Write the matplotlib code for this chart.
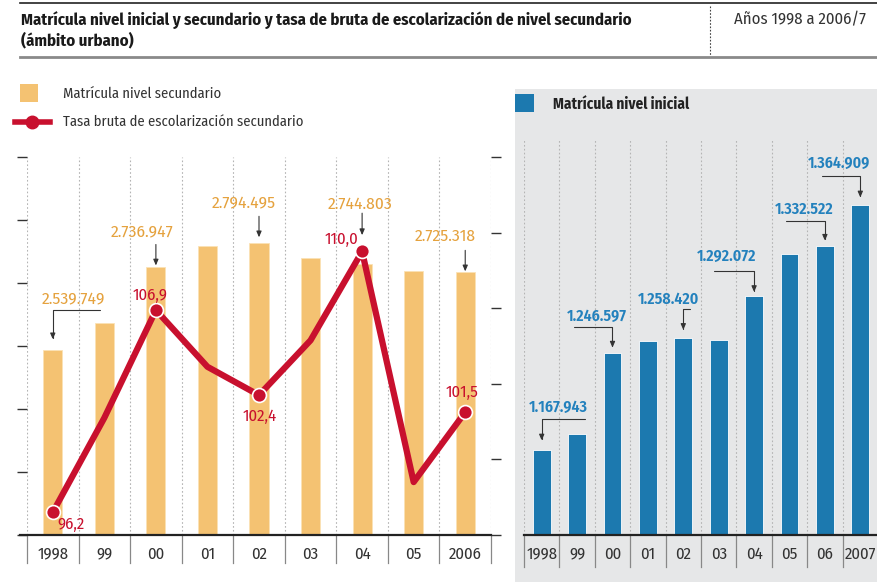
import matplotlib
matplotlib.use('Agg')
import matplotlib.pyplot as plt
from matplotlib.patches import Rectangle
from matplotlib.lines import Line2D
import matplotlib.transforms as mtransforms
import numpy as np

# ---------------- data ----------------
sec_years = ['1998', '99', '00', '01', '02', '03', '04', '05', '2006']
sec_enrol = [2539749, 2605000, 2736947, 2788000, 2794495, 2759500, 2744803, 2728500, 2725318]
sec_rate = [96.2, 101.2, 106.9, 103.9, 102.4, 105.3, 110.0, 97.8, 101.5]
sec_labeled = [0, 2, 4, 6, 8]

ini_years = ['1998', '99', '00', '01', '02', '03', '04', '05', '06', '2007']
ini_enrol = [1167943, 1181000, 1246597, 1256000, 1258420, 1256800, 1292072, 1325600, 1332522, 1364909]
ini_labeled = [0, 2, 4, 6, 8, 9]

title = 'Matrícula nivel inicial y secundario y tasa de bruta de escolarización de nivel secundario\n(ámbito urbano)'
subtitle = 'Años 1998 a 2006/7'
leg_sec = 'Matrícula nivel secundario'
leg_rate = 'Tasa bruta de escolarización secundario'
leg_ini = 'Matrícula nivel inicial'

# ---------------- fonts ----------------
plt.rcParams['font.family'] = ['Fira Sans Condensed', 'DejaVu Sans']

W, H, DPI = 878, 582, 100
fig = plt.figure(figsize=(W / DPI, H / DPI), dpi=DPI)
fig.patch.set_facecolor('white')

def fx(x):
    return x / W

def fy(y):
    return 1 - y / H

ORANGE = '#f4c272'
ORANGE_T = '#e5a23e'
RED = '#c8102e'
BLUE = '#1c79af'
BLUE_T = '#2381bd'
GRID = '#b4b4b4'
DARK = '#333333'

# ---------------- header ----------------
fig.add_artist(Line2D([fx(20), 1], [fy(3), fy(3)], transform=fig.transFigure, color='#222', lw=1.2))
fig.add_artist(Line2D([fx(20), 1], [fy(57), fy(57)], transform=fig.transFigure, color='#8a8a8a', lw=2))
fig.add_artist(Line2D([fx(710), fx(710)], [fy(6), fy(56)], transform=fig.transFigure, color='#444',
                      lw=0.8, ls=(0, (1.5, 1.5))))
fig.text(fx(21), fy(30), title, ha='left', va='center', fontsize=12, fontweight='bold', color='#1a1a1a',
         linespacing=1.2)
fig.text(fx(734), fy(20), subtitle, ha='left', va='center', fontsize=12, color='#333')

# ---------------- gray panel ----------------
fig.patches.append(Rectangle((fx(515), 0), fx(878) - fx(515), fy(89), transform=fig.transFigure,
                             facecolor='#e6e7e8', edgecolor='none', zorder=-5))

# ---------------- legends (manual) ----------------
fig.patches.append(Rectangle((fx(20), fy(102)), fx(18), 18 / H, transform=fig.transFigure,
                             facecolor=ORANGE, edgecolor='none'))
fig.text(fx(63), fy(94), leg_sec, ha='left', va='center', fontsize=10.5, color=DARK)
fig.add_artist(Line2D([fx(15), fx(50)], [fy(122), fy(122)], transform=fig.transFigure, color=RED, lw=4))
fig.add_artist(Line2D([fx(32)], [fy(122)], transform=fig.transFigure, marker='o', ms=9, mfc=RED, mec=RED))
fig.text(fx(63), fy(122), leg_rate, ha='left', va='center', fontsize=10.5, color=DARK)

fig.patches.append(Rectangle((fx(515), fy(112)), fx(19), 18 / H, transform=fig.transFigure,
                             facecolor=BLUE, edgecolor='none', zorder=1))
fig.text(fx(553), fy(104), leg_ini, ha='left', va='center', fontsize=11, fontweight='bold', color='#222')

# ---------------- helper ----------------
def arrow(ax, xi, v, sdx, sdy, gap, elbow=True):
    ax.annotate('', xy=(xi, v), xytext=(sdx, sdy), textcoords='offset pixels',
                arrowprops=dict(arrowstyle='-|>,head_length=0.35,head_width=0.15',
                                connectionstyle='angle,angleA=0,angleB=90,rad=0' if elbow else 'arc3',
                                shrinkA=0, shrinkB=gap * 72 / DPI, lw=0.8, color=DARK),
                annotation_clip=False, zorder=6)

def label(ax, xi, v, txt, dx, dy, color, size=11.5, weight='normal'):
    ax.annotate(txt, xy=(xi, v), xytext=(dx, dy), textcoords='offset pixels', ha='center', va='center',
                color=color, fontsize=size, fontweight=weight, annotation_clip=False, zorder=7)

def fmt_int(v):
    return f'{v:,}'.replace(',', '.')

def fmt_rate(v):
    return f'{v:.1f}'.replace('.', ',')

# ---------------- left chart ----------------
ax = fig.add_axes([fx(27), fy(535), fx(491) - fx(27), (535 - 157) / H])
ax.set_facecolor('none')
xs = np.arange(len(sec_years))
ax.set_xlim(-0.5, len(sec_years) - 0.5)
ax.set_ylim(2.1e6, 3.0e6)
ax.bar(xs, sec_enrol, width=0.37, color=ORANGE, edgecolor='#fbe2b5', lw=0.6, zorder=2)
for b in np.arange(-0.5, len(sec_years)):
    ax.axvline(b, color=GRID, lw=0.8, ls=(0, (1.5, 2)), zorder=1)
for s in ax.spines.values():
    s.set_visible(False)
ax.set_yticks(np.arange(2.1e6, 3.0e6 + 1, 1.5e5))
ax.tick_params(axis='y', direction='out', length=7, width=1, color=DARK, labelleft=False)
ax.set_xticks(xs, sec_years)
ax.tick_params(axis='x', length=0, pad=8, labelsize=12, labelcolor=DARK)
ax.plot([-7 / 464, 1], [0, 0], transform=ax.transAxes, color='#222', lw=1.6, clip_on=False, zorder=5)
bt = mtransforms.blended_transform_factory(ax.transData, ax.transAxes)
for b in np.arange(-0.5, len(sec_years)):
    ax.plot([b, b], [0, -28 / 378], transform=bt, color='#888', lw=0.9, clip_on=False)

sec_lbl = {0: (21, 51, 47, 40, 11), 2: (-14, 35, 0, 23, 2), 4: (-15, 40, 0, 27, 6),
           6: (-2, 60, 0, 51, 29), 8: (-20, 36, 0, 22, 1)}
for i in sec_labeled:
    tdx, tdy, sdx, sdy, gap = sec_lbl[i]
    label(ax, xs[i], sec_enrol[i], fmt_int(sec_enrol[i]), tdx, tdy, ORANGE_T, size=12.5)
    arrow(ax, xs[i], sec_enrol[i], sdx, sdy, gap, elbow=(sdx != 0))

ax2 = ax.twinx()
ax2.set_facecolor('none')
ax2.set_ylim(95, 115)
for s in ax2.spines.values():
    s.set_visible(False)
ax2.set_yticks(np.arange(95, 115.1, 4))
ax2.tick_params(axis='y', direction='out', length=7, width=1, color=DARK, labelright=False)
ax2.plot(xs, sec_rate, color=RED, lw=4.5, zorder=3, solid_capstyle='butt')
ax2.plot(xs[sec_labeled], np.array(sec_rate)[sec_labeled], 'o', ms=10, mfc=RED, mec='white', mew=1.2, zorder=4)
rate_lbl = {0: (18, -12), 2: (-6, 15), 4: (1, -21), 6: (-21, 12), 8: (-3, 20)}
for i in sec_labeled:
    dx, dy = rate_lbl[i]
    label(ax2, xs[i], sec_rate[i], fmt_rate(sec_rate[i]), dx, dy, RED, size=12)

# ---------------- right chart ----------------
axr = fig.add_axes([fx(524), fy(535), fx(878) - fx(524), (535 - 140) / H])
axr.set_facecolor('none')
xr = np.arange(len(ini_years))
axr.set_xlim(-0.5, len(ini_years) - 0.5)
axr.set_ylim(1.1e6, 1.4175e6)
axr.bar(xr, ini_enrol, width=0.5, color=BLUE, edgecolor='white', lw=0.6, zorder=2)
for b in np.arange(-0.5, len(ini_years)):
    axr.axvline(b, color=GRID, lw=0.8, ls=(0, (1.5, 2)), zorder=1)
for s in axr.spines.values():
    s.set_visible(False)
axr.set_yticks([])
axr.set_xticks(xr, ini_years)
axr.tick_params(axis='x', length=0, pad=8, labelsize=12, labelcolor=DARK)
axr.plot([0, 1], [0, 0], transform=axr.transAxes, color='#222', lw=1.6, clip_on=False, zorder=5)
btr = mtransforms.blended_transform_factory(axr.transData, axr.transAxes)
for b in np.arange(-0.5, len(ini_years)):
    axr.plot([b, b], [0, -32 / 395], transform=btr, color='#888', lw=0.9, clip_on=False)

ini_lbl = {0: (17, 43, 43, 31, 10), 2: (-16, 36, -38, 26, 5), 4: (-15, 39, 7, 29, 8),
           6: (-28, 40, -40, 25, 4), 8: (-21, 36, -39, 25, 5), 9: (-21, 42, -38, 29, 8)}
for i in ini_labeled:
    tdx, tdy, sdx, sdy, gap = ini_lbl[i]
    label(axr, xr[i], ini_enrol[i], fmt_int(ini_enrol[i]), tdx, tdy, BLUE_T, size=11.5, weight='semibold')
    arrow(axr, xr[i], ini_enrol[i], sdx, sdy, gap, elbow=True)

fig.savefig('out.png', dpi=DPI)
